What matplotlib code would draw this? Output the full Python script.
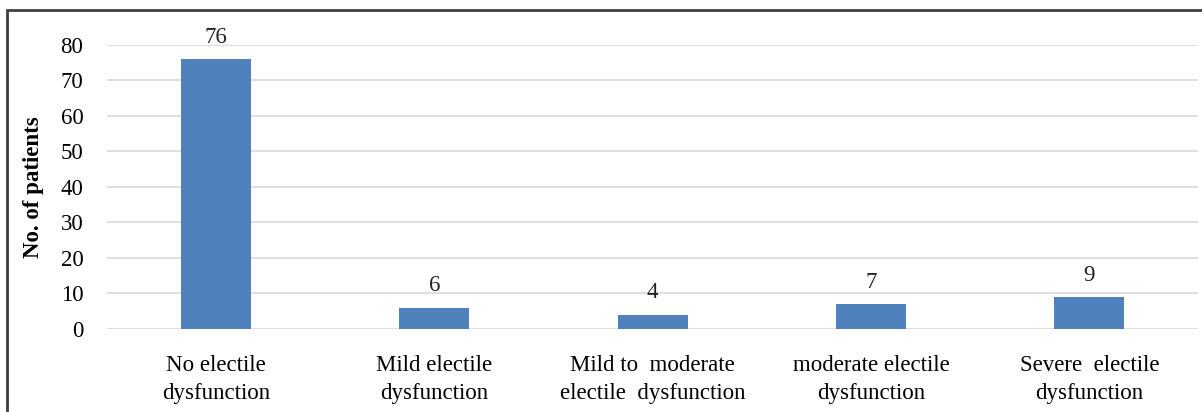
import matplotlib.pyplot as plt
from matplotlib.patches import Rectangle

categories = ['No electile\ndysfunction', 'Mild electile\ndysfunction',
              'Mild to  moderate\nelectile  dysfunction', 'moderate electile\ndysfunction',
              'Severe  electile\ndysfunction']
patients = [76, 6, 4, 7, 9]
yticks = [0, 10, 20, 30, 40, 50, 60, 70, 80]

plt.rcParams['font.family'] = ['Liberation Serif', 'DejaVu Serif']

fig = plt.figure(figsize=(12.02, 4.12), dpi=100)
ax = fig.add_axes([0.089, 0.2015, 0.908, 0.6895])

x = range(len(categories))
bars = ax.bar(x, patients, width=0.32, color='#4F81BD', zorder=3)
for xi, v in zip(x, patients):
    ax.text(xi, v + 3.2, str(v), ha='center', va='bottom', fontsize=16.5, color='#222222')

ax.set_xlim(-0.5, len(categories) - 0.5)
ax.set_ylim(0, 80)
ax.set_yticks(yticks)
ax.set_xticks(list(x))
ax.set_xticklabels(categories, fontsize=16.5, linespacing=1.4)
ax.tick_params(axis='y', labelsize=16.5, length=0, pad=17)
ax.tick_params(axis='x', length=0, pad=19)
ax.yaxis.grid(True, color='#D9D9D9', linewidth=1.2, zorder=0)
for s in ax.spines.values():
    s.set_visible(False)
ax.set_ylabel('No. of patients', fontsize=16.5, fontweight='bold', labelpad=12)

# outer border of the chart
fig.patches.append(Rectangle((0.006, -0.05), 1.1, 1.026, transform=fig.transFigure,
                             fill=False, edgecolor='#404040', linewidth=2))

fig.savefig('out.png', dpi=100)
